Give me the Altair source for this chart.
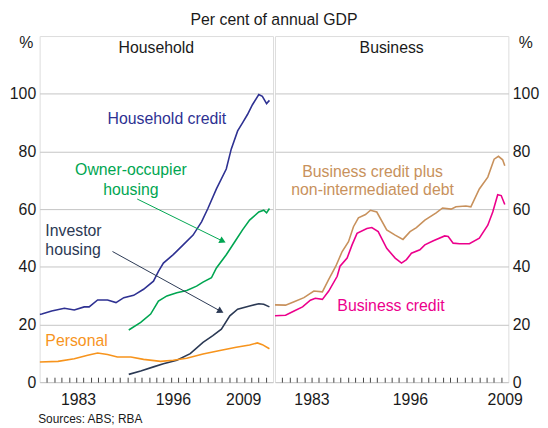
import altair as alt
import pandas as pd

FONT = "Liberation Sans"

# ---------------- data (per cent of annual GDP) ----------------
hc_years = [1978.0, 1978.29, 1979.65, 1981.39, 1982.75, 1984.11, 1984.79, 1985.95, 1987.31, 1988.47,
            1989.54, 1990.89, 1992.25, 1993.61, 1994.29, 1994.97, 1996.32, 1997.68, 1999.04, 2000.20,
            2001.07, 2002.24, 2003.59, 2004.27, 2005.15, 2005.82, 2006.50, 2007.18, 2008.05, 2008.54,
            2009.12, 2009.51]
hc_vals = [23.5, 23.6, 24.7, 25.6, 25.0, 26.1, 26.1, 28.5, 28.5, 27.6,
           29.3, 30.1, 32.2, 35.0, 38.4, 41.3, 44.2, 47.6, 51.0, 55.6,
           60.2, 67.0, 73.9, 80.8, 87.1, 89.9, 92.8, 96.2, 99.7, 99.1,
           96.6, 97.7]

oo_years = [1990.22, 1991.86, 1993.22, 1994.29, 1995.45, 1996.81, 1998.17, 1999.52, 2000.40, 2001.56,
            2002.24, 2003.59, 2004.76, 2005.82, 2006.79, 2008.05, 2008.73, 2009.12, 2009.51]
oo_vals = [18.1, 20.7, 23.6, 28.1, 29.9, 31.0, 31.8, 33.3, 34.7, 36.2,
           39.6, 44.2, 48.7, 52.8, 56.2, 59.0, 59.6, 58.7, 60.2]

inv_years = [1990.22, 1991.86, 1993.61, 1994.97, 1996.81, 1998.65, 2000.40, 2001.75, 2002.92, 2004.08,
             2005.15, 2006.79, 2008.05, 2008.73, 2009.51]
inv_vals = [2.7, 3.9, 5.3, 6.4, 7.6, 9.9, 13.8, 16.1, 18.4, 23.0,
            25.3, 26.4, 27.2, 27.0, 26.1]

per_years = [1978.0, 1980.52, 1982.75, 1984.59, 1985.95, 1987.31, 1988.66, 1990.51, 1992.25, 1994.58,
             1996.32, 1998.17, 2000.40, 2002.72, 2004.95, 2006.79, 2007.86, 2008.54, 2009.51]
per_vals = [7.0, 7.2, 8.1, 9.3, 10.1, 9.6, 8.7, 8.7, 7.9, 7.2,
            7.6, 8.3, 9.8, 11.0, 12.1, 12.9, 13.6, 13.0, 11.6]

bc_years = [1978.0, 1979.45, 1980.62, 1981.78, 1982.85, 1983.53, 1984.50, 1985.37, 1986.53, 1986.92,
            1987.89, 1988.57, 1989.25, 1990.60, 1991.28, 1992.15, 1993.32, 1994.48, 1995.35, 1996.03,
            1996.71, 1997.87, 1998.55, 1999.72, 2001.27, 2001.75, 2002.43, 2003.30, 2004.66, 2006.02,
            2007.18, 2007.86, 2008.54, 2009.02, 2009.51]
bc_vals = [23.0, 23.2, 24.7, 26.1, 28.4, 29.1, 28.7, 31.6, 36.7, 40.2,
           43.0, 47.6, 51.6, 53.3, 53.6, 52.2, 46.4, 43.0, 41.3, 42.5,
           44.7, 45.9, 47.6, 49.0, 50.7, 50.5, 48.2, 48.0, 48.0, 49.9,
           54.4, 59.0, 65.0, 64.7, 61.6]

bp_years = [1978.0, 1979.45, 1980.62, 1981.97, 1983.33, 1984.50, 1985.37, 1986.34, 1987.21, 1988.08,
            1988.76, 1989.44, 1990.41, 1991.09, 1991.96, 1993.32, 1994.48, 1995.55, 1996.52, 1997.39,
            1998.55, 2000.10, 2000.98, 2002.14, 2002.82, 2004.18, 2004.86, 2006.02, 2007.18, 2008.05,
            2008.64, 2009.22, 2009.51]
bp_vals = [26.8, 26.7, 27.9, 29.3, 31.6, 31.3, 35.6, 40.2, 45.3, 48.7,
           53.9, 57.0, 58.1, 59.6, 59.0, 52.8, 51.0, 49.5, 52.2, 53.6,
           56.2, 58.7, 60.4, 60.0, 60.8, 61.1, 60.8, 67.0, 71.1, 77.3,
           78.3, 77.1, 75.0]

series_names = ["Household credit", "Owner-occupier housing", "Investor housing", "Personal",
                "Business credit plus non-intermediated debt", "Business credit"]
series_colors = ["#2E3192", "#00A651", "#2B3954", "#F7941D", "#C8915C", "#EC008C"]

tick_years = list(range(1979, 2010))
label_years = [1983, 1996, 2009]
y_ticks = [0, 20, 40, 60, 80, 100]

# annotation labels (data coordinates)
hh_ann_c_text = ["Household credit", "Owner-occupier", "housing"]
hh_ann_c_series = ["Household credit", "Owner-occupier housing", "Owner-occupier housing"]
hh_ann_c_year = [1995.45, 1990.51, 1990.51]
hh_ann_c_val = [91.3, 73.5, 66.6]

hh_ann_l_text = ["Investor", "housing", "Personal"]
hh_ann_l_series = ["Investor housing", "Investor housing", "Personal"]
hh_ann_l_year = [1978.78, 1978.78, 1978.78]
hh_ann_l_val = [52.5, 45.7, 14.1]

bus_ann_text = ["Business credit plus", "non-intermediated debt", "Business credit"]
bus_ann_series = ["Business credit plus non-intermediated debt",
                  "Business credit plus non-intermediated debt", "Business credit"]
bus_ann_year = [1991.38, 1991.38, 1993.90]
bus_ann_val = [72.8, 66.6, 26.4]

# arrows: start -> end
arrow_series = ["Owner-occupier housing", "Investor housing"]
arrow_start_year = [1991.38, 1987.99]
arrow_start_val = [63.5, 45.3]
arrow_end_year = [2003.11, 2002.82]
arrow_end_val = [48.9, 24.6]

# ---------------- frames ----------------
def mk(name, years, vals):
    return pd.DataFrame({"series": name, "year": years, "value": vals})

hh_df = pd.concat([mk(series_names[0], hc_years, hc_vals),
                   mk(series_names[1], oo_years, oo_vals),
                   mk(series_names[2], inv_years, inv_vals),
                   mk(series_names[3], per_years, per_vals)])
bus_df = pd.concat([mk(series_names[4], bp_years, bp_vals),
                    mk(series_names[5], bc_years, bc_vals)])

hh_ann_c = pd.DataFrame({"label": hh_ann_c_text, "series": hh_ann_c_series,
                         "year": hh_ann_c_year, "value": hh_ann_c_val})
hh_ann_l = pd.DataFrame({"label": hh_ann_l_text, "series": hh_ann_l_series,
                         "year": hh_ann_l_year, "value": hh_ann_l_val})
bus_ann = pd.DataFrame({"label": bus_ann_text, "series": bus_ann_series,
                        "year": bus_ann_year, "value": bus_ann_val})

arrow_rows = []
for i, s in enumerate(arrow_series):
    arrow_rows.append({"series": s, "arrow": i, "year": arrow_start_year[i], "value": arrow_start_val[i]})
    arrow_rows.append({"series": s, "arrow": i, "year": arrow_end_year[i], "value": arrow_end_val[i]})
arrow_df = pd.DataFrame(arrow_rows)
head_df = pd.DataFrame({"series": arrow_series, "year": arrow_end_year, "value": arrow_end_val})

# ---------------- encodings ----------------
color = alt.Color("series:N", scale=alt.Scale(domain=series_names, range=series_colors), legend=None)
xscale = alt.Scale(domain=[1978.0, 2010.0], nice=False, zero=False)
yscale = alt.Scale(domain=[0, 120], nice=False, zero=True)
label_expr = ("indexof([" + ",".join(str(v) for v in label_years) +
              "], datum.value) >= 0 ? format(datum.value, 'd') : ''")

x_common = dict(values=tick_years, labelExpr=label_expr, tickSize=5, offset=-5, domain=False,
                grid=False, labelPadding=10, labelFontSize=16, labelColor="#1a1a1a",
                tickColor="#444444", tickWidth=1, labelOverlap=False, labelFlush=False,
                labelFont=FONT)

x_left = alt.X("year:Q", scale=xscale, axis=alt.Axis(
    labelAlign={"condition": {"test": "datum.value == 2009", "value": "right"}, "value": "center"},
    labelOffset={"condition": {"test": "datum.value == 2009", "value": -5}, "value": 2},
    title="Sources: ABS; RBA", titleFontSize=12, titleFontWeight="normal", titleColor="#1a1a1a",
    titleAnchor="start", titleAlign="left", titleX=-2, titleY=42, titleBaseline="middle",
    titleFont=FONT, **x_common))
x_right = alt.X("year:Q", scale=xscale, title=None,
                axis=alt.Axis(labelAlign="center",
                              labelOffset={"condition": {"test": "datum.value == 1983", "value": 0},
                                           "value": 3.7},
                              **x_common))

y_common = dict(values=y_ticks, grid=True, gridColor="#C4C4C4", gridWidth=1, ticks=False,
                domain=False, labelFontSize=16, labelPadding=4, labelColor="#1a1a1a",
                labelFont=FONT, title="%", titleAngle=0, titleAlign="center",
                titleBaseline="middle", titleFontSize=16, titleFontWeight="normal",
                titleColor="#1a1a1a", titleFont=FONT, titleY=7)
y_left = alt.Y("value:Q", scale=yscale, axis=alt.Axis(orient="left", titleX=-14, **y_common))
y_right = alt.Y("value:Q", scale=yscale, axis=alt.Axis(orient="right", titleX=17, **y_common))


def panel(df, x, y, header, ann_layers):
    lines = alt.Chart(df).mark_line(strokeWidth=1.6, clip=True).encode(
        x=x, y=y, color=color, detail="series:N", order="year:Q")
    hdr = alt.Chart(pd.DataFrame({"year": [1994.0], "value": [116.0], "label": [header]})).mark_text(
        font=FONT, fontSize=16, color="#1a1a1a", baseline="middle", align="center").encode(
        x=x, y=y, text="label:N")
    return alt.layer(lines, *ann_layers, hdr).properties(width=236, height=350)


arrows = alt.Chart(arrow_df).mark_line(strokeWidth=1).encode(
    x=x_left, y=y_left, color=color, detail="arrow:N", order="year:Q")
heads = [
    alt.Chart(head_df[head_df.series == arrow_series[0]]).mark_point(
        shape="triangle-up", filled=True, opacity=1, size=55, angle=116).encode(
        x=x_left, y=y_left, color=color),
    alt.Chart(head_df[head_df.series == arrow_series[1]]).mark_point(
        shape="triangle-up", filled=True, opacity=1, size=55, angle=119).encode(
        x=x_left, y=y_left, color=color),
]
hh_text_c = alt.Chart(hh_ann_c).mark_text(font=FONT, fontSize=16, align="center", baseline="middle").encode(
    x=x_left, y=y_left, color=color, text="label:N")
hh_text_l = alt.Chart(hh_ann_l).mark_text(font=FONT, fontSize=16, align="left", baseline="middle").encode(
    x=x_left, y=y_left, color=color, text="label:N")
bus_text = alt.Chart(bus_ann).mark_text(font=FONT, fontSize=16, align="center", baseline="middle").encode(
    x=x_right, y=y_right, color=color, text="label:N")

left = panel(hh_df, x_left, y_left, "Household", [arrows, *heads, hh_text_c, hh_text_l])
right = panel(bus_df, x_right, y_right, "Business", [bus_text])

chart = alt.hconcat(left, right, spacing=0).resolve_scale(
    x="independent", y="independent").resolve_axis(x="independent", y="independent").properties(
    title=alt.TitleParams(text="Credit", subtitle="Per cent of annual GDP", fontSize=16,
                          fontWeight="bold", font=FONT, color="#000000", subtitleFont=FONT,
                          subtitleFontSize=16, subtitleColor="#1a1a1a", anchor="middle",
                          offset=7, subtitlePadding=3),
    padding={"top": -18, "left": 0, "right": 0, "bottom": 2},
).configure_view(stroke="#3a3a3a", strokeWidth=1.2).configure(font=FONT)

chart.save("out.html", embed_options={"renderer": "svg", "actions": False})
